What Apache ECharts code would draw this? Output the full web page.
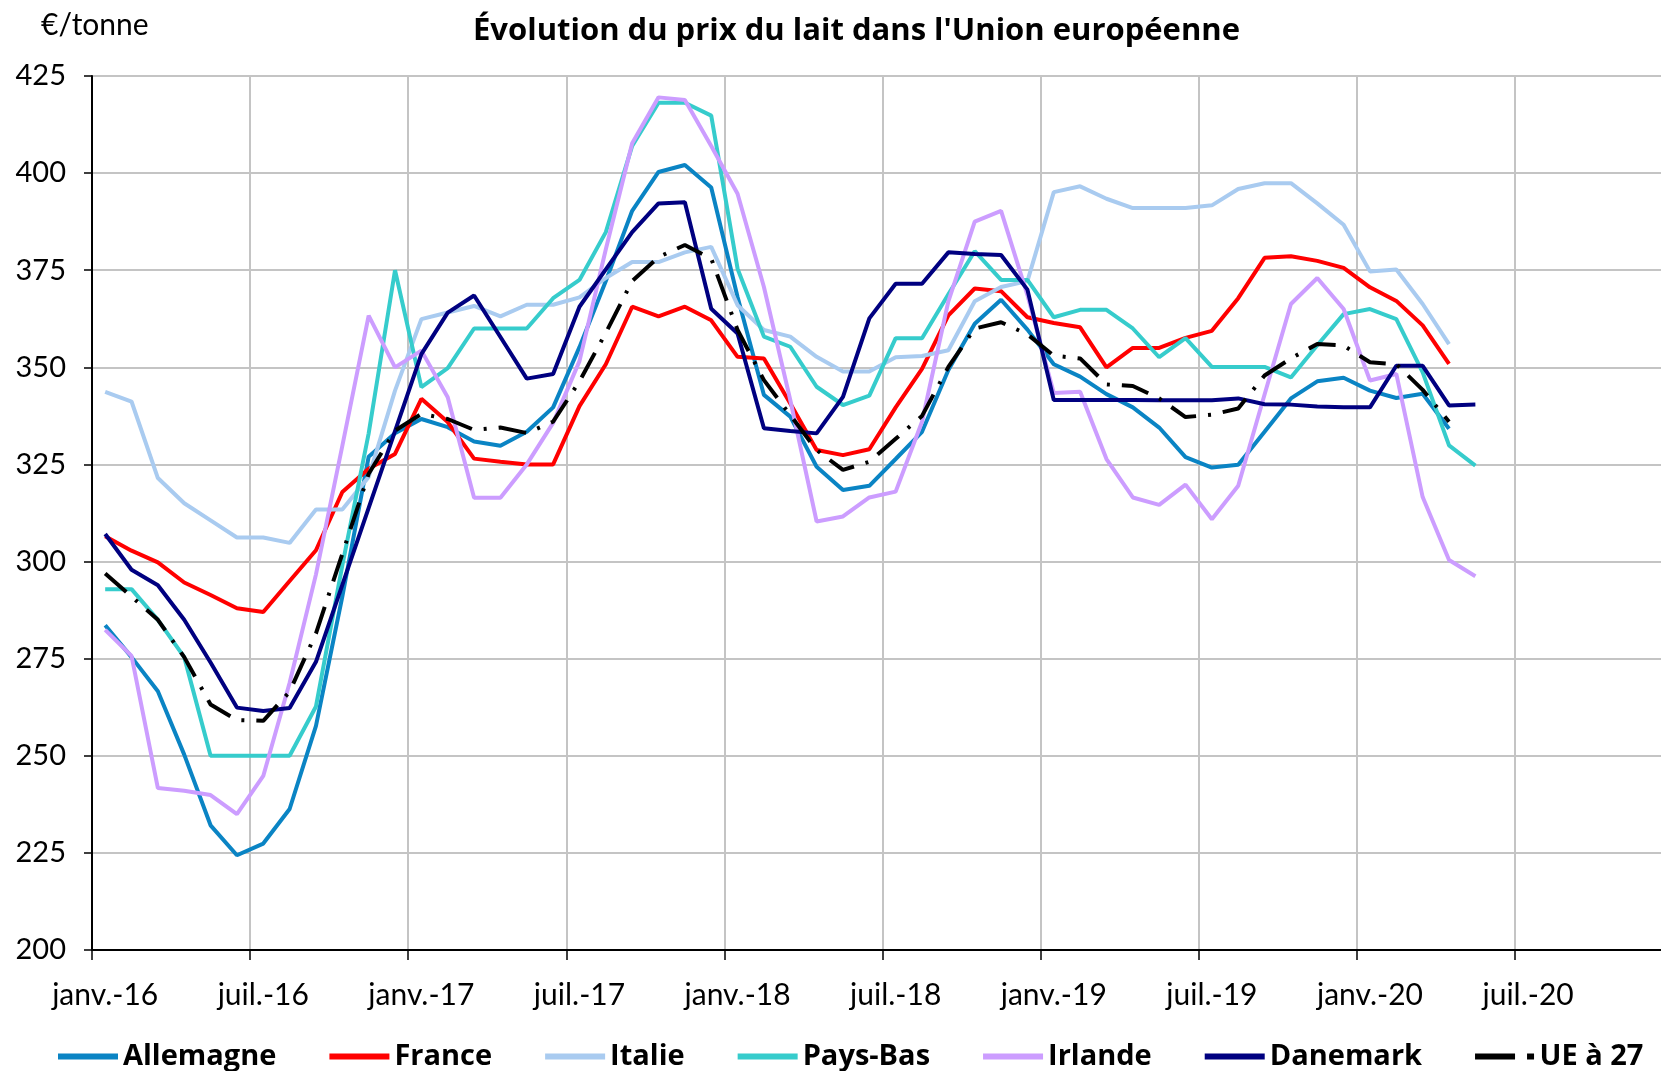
<!DOCTYPE html>
<html>
<head>
<meta charset="utf-8">
<script src="https://cdn.jsdelivr.net/npm/echarts@6/dist/echarts.min.js"></script>
<style>
  html, body { margin: 0; padding: 0; background: #fff; }
  #chart { width: 1661px; height: 1071px; }
</style>
</head>
<body>
<div id="chart"></div>
<script>
// months on the x axis (Jan 2016 -> Dec 2020)
const months = ['janv.', 'févr.', 'mars', 'avr.', 'mai', 'juin', 'juil.', 'août', 'sept.', 'oct.', 'nov.', 'déc.'];
const years = ['16', '17', '18', '19', '20'];

// €/tonne, monthly from janv.-16
const allemagne = [283.6, 275.4, 266.6, 250.3, 232.1, 224.4, 227.4, 236.3, 257.7, 291, 327, 333,
  336.7, 334.6, 330.9, 329.8, 333.4, 339.7, 355.2, 372.2, 390.3, 400.3, 402.1, 396.3,
  368.1, 342.9, 337.3, 324.4, 318.4, 319.5, 326.4, 333.4, 349.3, 361.2, 367.4, 359.7,
  350.8, 347.6, 343.1, 339.7, 334.5, 326.9, 324.2, 324.9, 333.4, 342, 346.4, 347.3,
  344, 342.1, 343.2, 334.2];
const france = [306.5, 302.8, 299.8, 294.6, 291.4, 288, 287, 295, 302.9, 317.9, 323.9, 327.7,
  341.9, 335.9, 326.5, 325.7, 325, 325, 340, 350.8, 365.6, 363.1, 365.6, 362.1,
  352.7, 352.3, 340.7, 328.7, 327.4, 328.9, 339.7, 349.6, 363.4, 370.3, 369.6, 362.9,
  361.4, 360.3, 350, 355, 355, 357.6, 359.4, 367.8, 378.2, 378.6, 377.4, 375.6,
  370.6, 367.1, 360.8, 350.9];
const italie = [343.7, 341.2, 321.5, 315, 310.6, 306.2, 306.2, 304.8, 313.4, 313.4, 321.8, 344,
  362.4, 364.1, 365.8, 363.1, 366.1, 366.1, 368, 373, 377.1, 377.1, 379.6, 381,
  366, 359.6, 357.9, 352.7, 348.9, 348.9, 352.6, 352.9, 354.4, 367, 370.7, 372.2,
  395.1, 396.6, 393.4, 391, 391, 391, 391.7, 395.9, 397.4, 397.4, 392.2, 386.7,
  374.7, 375.2, 366.3, 356];
const paysBas = [292.9, 292.9, 285, 275.4, 250, 250, 250, 250, 262.7, 299, 333, 375,
  344.9, 349.8, 360, 360, 360, 367.8, 372.5, 384.8, 407, 418.1, 418.1, 414.8,
  375.4, 357.9, 355.3, 345, 340.3, 342.7, 357.5, 357.5, 368.8, 379.9, 372.5, 372.5,
  362.9, 364.8, 364.8, 360, 352.6, 357.5, 350.1, 350.1, 350.1, 347.4, 355.7, 363.7,
  365, 362.4, 348.7, 329.9, 324.7];
const irlande = [282.4, 275.7, 241.7, 241, 239.9, 235, 244.8, 268.8, 296.7, 329.8, 363.3, 350,
  354.3, 342.3, 316.4, 316.4, 325, 335.7, 351.6, 380.4, 407.7, 419.5, 418.8, 407,
  394.7, 370.7, 341.6, 310.3, 311.6, 316.5, 318, 336, 367, 387.5, 390.3, 368.6,
  343.4, 343.7, 326.4, 316.5, 314.6, 319.8, 310.9, 319.5, 343, 366.3, 373, 365,
  346.6, 348.3, 316.6, 300.4, 296.2];
const danemark = [307.1, 297.9, 293.9, 285, 274, 262.4, 261.5, 262.3, 274.2, 294, 313.8, 333.6,
  353.4, 364.1, 368.5, 357.8, 347.1, 348.3, 365.6, 375.2, 384.8, 392.2, 392.5, 365.1,
  358.7, 334.3, 333.6, 333, 342.4, 362.6, 371.5, 371.5, 379.6, 379.2, 378.9, 370,
  341.6, 341.6, 341.6, 341.6, 341.5, 341.5, 341.5, 342, 340.5, 340.4, 339.9, 339.7,
  339.7, 350.4, 350.4, 340.2, 340.4];
const ue27 = [296.9, 291, 285, 275.4, 263.2, 259.2, 259, 266.5, 281.5, 302, 322.6, 333.7,
  338, 336.7, 333.9, 334.5, 333.1, 336, 346.4, 358.9, 372.2, 378.4, 381.5, 378,
  359.6, 346.7, 337.7, 328.7, 323.6, 325.7, 331.6, 337.5, 350.1, 360, 361.6, 358.5,
  353, 352.3, 345.6, 345.2, 342, 337.2, 337.8, 339.4, 347.9, 352.3, 356, 355.6,
  351.3, 350.8, 344.2, 336];

const categories = [];
years.forEach(y => months.forEach(m => categories.push(m + '-' + y)));

const FONT = 'Lato, "Open Sans", sans-serif';
const BOLD = '"Open Sans", Lato, sans-serif';

function line(name, data, color, extra) {
  return Object.assign({
    name: name,
    type: 'line',
    data: data,
    symbol: 'none',
    lineStyle: { color: color, width: 4 },
    itemStyle: { color: color },
    emphasis: { disabled: true },
    animation: false
  }, extra || {});
}

const chart = echarts.init(document.getElementById('chart'), null, { renderer: 'canvas' });
chart.setOption({
  backgroundColor: '#fff',
  animation: false,
  title: [
    {
      text: "Évolution du prix du lait dans l'Union européenne",
      left: 473, top: 16, padding: 0,
      textStyle: { fontFamily: BOLD, fontWeight: 'bold', fontSize: 31, color: '#000' }
    },
    {
      text: '€/tonne',
      left: 41, top: 10, padding: 0,
      textStyle: { fontFamily: FONT, fontWeight: 'normal', fontSize: 30, color: '#000' }
    }
  ],
  // the plot runs a little past the right edge of the picture
  grid: { left: 92, width: 1581, top: 76, bottom: 121, containLabel: false, outerBoundsMode: 'none' },
  xAxis: {
    type: 'category',
    data: categories,
    boundaryGap: true,
    axisLine: { lineStyle: { color: '#000', width: 2 } },
    axisTick: { show: true, interval: 5, length: 10, lineStyle: { color: '#000', width: 1.5 } },
    axisLabel: { interval: 5, margin: 30, fontFamily: FONT, fontSize: 30, color: '#000' },
    splitLine: { show: true, interval: 5, lineStyle: { color: '#C4C4C4', width: 2 } }
  },
  yAxis: {
    type: 'value',
    min: 200, max: 425, interval: 25,
    axisLine: { show: true, lineStyle: { color: '#000', width: 2 } },
    axisTick: { show: true, length: 8, lineStyle: { color: '#000', width: 1.5 } },
    axisLabel: { margin: 26, fontFamily: FONT, fontSize: 29, color: '#000' },
    splitLine: { show: true, lineStyle: { color: '#C4C4C4', width: 2 } }
  },
  legend: {
    top: 1042, left: 58, padding: 0,
    itemWidth: 60, itemHeight: 6, itemGap: 53,
    textStyle: { fontFamily: BOLD, fontWeight: 'bold', fontSize: 29, color: '#000' },
    data: [
      { name: 'Allemagne', icon: 'rect' },
      { name: 'France', icon: 'rect' },
      { name: 'Italie', icon: 'rect' },
      { name: 'Pays-Bas', icon: 'rect' },
      { name: 'Irlande', icon: 'rect' },
      { name: 'Danemark', icon: 'rect' },
      { name: 'UE à 27', icon: 'path://M0,0h40v6h-40zM52,0h7v6h-7z' }
    ]
  },
  series: [
    line('Allemagne', allemagne, '#0A84C4'),
    line('France', france, '#FF0000'),
    line('Italie', italie, '#A9CBF0'),
    line('Pays-Bas', paysBas, '#36CCCC'),
    line('Irlande', irlande, '#CC9DFF'),
    line('Danemark', danemark, '#000080'),
    line('UE à 27', ue27, '#000', { lineStyle: { color: '#000', width: 4, type: [28, 12, 3, 12] } })
  ]
});
</script>
</body>
</html>
